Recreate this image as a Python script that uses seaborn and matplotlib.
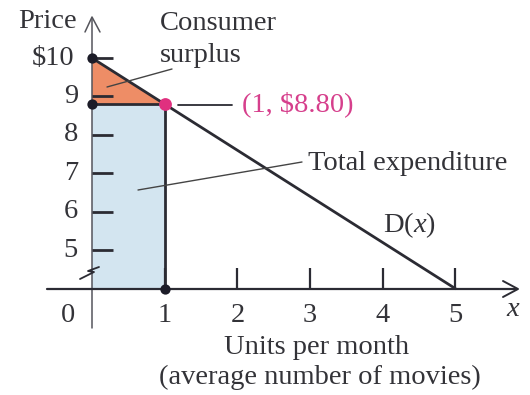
import matplotlib
matplotlib.use("Agg")
import matplotlib.pyplot as plt
import seaborn as sns
import pandas as pd

# Demand for movie rentals, D(x), and the purchase at x = 1
units = [0, 1, 5]
price = [10.0, 8.8, 4.0]
chosen_units = 1
chosen_price = 8.8
max_price = 10.0
y_ticks = [5, 6, 7, 8, 9, 10]
y_tick_labels = ["5", "6", "7", "8", "9", "\\$10"]
x_ticks = [1, 2, 3, 4, 5]
x_tick_labels = ["1", "2", "3", "4", "5"]
axis_floor = 4.0  # price level where the broken price axis meets the x-axis

sns.set_theme(style="white")
plt.rcParams["font.family"] = ["Liberation Serif", "DejaVu Serif"]
plt.rcParams["mathtext.fontset"] = "custom"
plt.rcParams["mathtext.rm"] = "Liberation Serif"
plt.rcParams["mathtext.it"] = "Liberation Serif:italic"

INK = "#2b2b33"
TXT = "#333338"
BLUE = "#d3e5f0"
ORANGE = "#ee8d66"
MAGENTA = "#d63f8c"
FS = 20.5

fig = plt.figure(figsize=(5.3, 3.95), dpi=100)
ax = fig.add_axes([0, 0, 1, 1])

# canvas layout: pixels per unit and origin of the drawing
PX, PY, X0, YTOP = 72.7, 38.45, 92.0, 58.0
ax.set_xlim(-X0 / PX, (530 - X0) / PX)
ax.set_ylim(max_price - (395 - YTOP) / PY, max_price + YTOP / PY)
ax.axis("off")


def dx(px):
    return (px - X0) / PX


def dy(py):
    return max_price - (py - YTOP) / PY


# shaded regions: total expenditure and consumer surplus
ax.fill_between([0, chosen_units], axis_floor, chosen_price, color=BLUE, lw=0, zorder=1)
ax.fill([0, 0, chosen_units], [max_price, chosen_price, chosen_price],
        color=ORANGE, lw=0, zorder=1)

# axes with arrows and a break mark on the price axis
ax.plot([0, 0], [dy(328), dy(18)], color="#55555c", lw=1.1, zorder=2)
ax.plot([dx(85), 0, dx(100)], [dy(32), dy(17), dy(32)], color="#55555c", lw=1.1, zorder=2)
ax.plot([dx(47), dx(517)], [axis_floor, axis_floor], color=INK, lw=1.6, zorder=2)
ax.plot([dx(503), dx(518), dx(503)], [dy(281), dy(289), dy(297)], color=INK, lw=1.4, zorder=2)
ax.plot([dx(80), dx(94), dx(88), dx(99)], [dy(279), dy(272), dy(271), dy(267)],
        color=INK, lw=1.3, zorder=3)

# tick marks
ax.hlines(y_ticks, 0, dx(113), color=INK, lw=2, zorder=3)
ax.vlines(x_ticks, axis_floor, dy(268), color=INK, lw=1.6, zorder=3)

# demand curve and guide lines at the chosen quantity
demand = pd.DataFrame({"units": units, "price": price})
sns.lineplot(data=demand, x="units", y="price", color=INK, lw=2, ax=ax, zorder=4)
ax.plot([0, chosen_units], [chosen_price, chosen_price], color=INK, lw=2, zorder=4)
ax.plot([chosen_units, chosen_units], [axis_floor, chosen_price], color=INK, lw=2, zorder=4)

# points
pts = pd.DataFrame({"units": [0, 0, chosen_units], "price": [max_price, chosen_price, axis_floor]})
sns.scatterplot(data=pts, x="units", y="price", color="#1c1c28", s=55, linewidth=0, ax=ax, zorder=5)
sns.scatterplot(x=[chosen_units], y=[chosen_price], color="#e0307f", s=85, linewidth=0, ax=ax, zorder=6)

# tick labels
for v, lab in zip(y_ticks, y_tick_labels):
    ax.text(dx(78 if v < 10 else 74), v, lab, ha="right", va="center", fontsize=FS, color=TXT)
for v, lab in zip(x_ticks, x_tick_labels):
    ax.text(v, dy(316), lab, ha="center", va="center", fontsize=FS, color=TXT)
ax.text(dx(68), dy(316), "0", ha="center", va="center", fontsize=FS, color=TXT)
ax.text(dx(513), dy(309), "$x$", ha="center", va="center", fontsize=FS, color=TXT)
ax.text(dx(77), dy(21), "Price", ha="right", va="center", fontsize=FS, color=TXT)

# axis title
ax.text(dx(317), dy(347), "Units per month", ha="center", va="center", fontsize=FS, color=TXT)
ax.text(dx(320), dy(377), "(average number of movies)", ha="center", va="center",
        fontsize=FS, color=TXT)

# annotations with leader lines
ax.text(dx(160), dy(30), "Consumer", ha="left", va="baseline", fontsize=FS, color=TXT)
ax.text(dx(160), dy(62), "surplus", ha="left", va="baseline", fontsize=FS, color=TXT)
ax.plot([dx(107), dx(172)], [dy(87), dy(69)], color="#444", lw=1, zorder=4)

ax.plot([dx(178), dx(232)], [dy(105), dy(105)], color=INK, lw=1.3, zorder=4)
ax.text(dx(242), dy(104), "(1, \\$8.80)", ha="left", va="center", fontsize=FS, color=MAGENTA)

ax.plot([dx(138), dx(302)], [dy(190), dy(162)], color="#444", lw=1, zorder=4)
ax.text(dx(308), dy(163), "Total expenditure", ha="left", va="center", fontsize=FS, color=TXT)

ax.text(dx(383), dy(225), "$\\mathrm{D}(x)$", ha="left", va="center", fontsize=FS, color=TXT)

fig.savefig("out.png", dpi=100)
